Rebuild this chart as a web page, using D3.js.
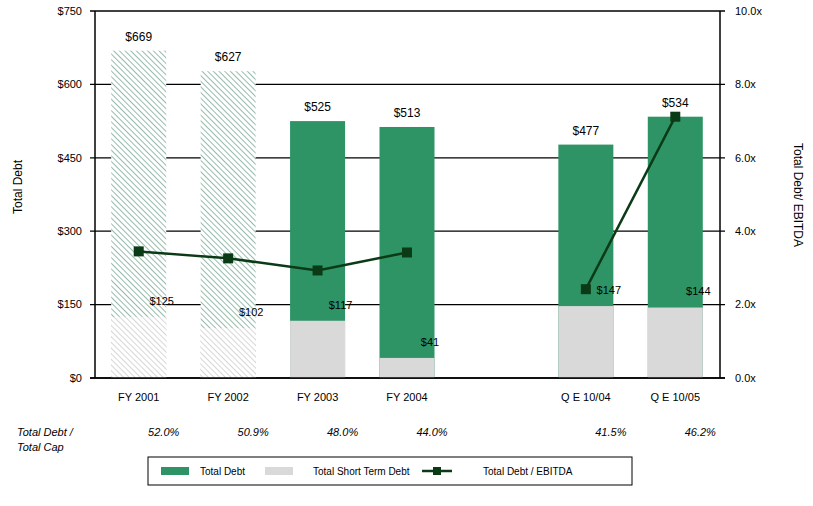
<!DOCTYPE html>
<html><head><meta charset="utf-8">
<script src="https://cdn.jsdelivr.net/npm/d3@7"></script>
<style>
body{margin:0;background:#fff;}
svg{font-family:"Liberation Sans",Arial,sans-serif;}
</style></head>
<body><svg id="c" width="813" height="506"></svg>
<script>
const categories = ["FY 2001","FY 2002","FY 2003","FY 2004","Q E 10/04","Q E 10/05"];
const slots = ["FY 2001","FY 2002","FY 2003","FY 2004","gap","Q E 10/04","Q E 10/05"];
const totalDebt = [669,627,525,513,477,534];
const shortTermDebt = [125,102,117,41,147,144];
const debtToEbitda = [3.45,3.26,2.93,3.42,2.42,7.12];
const lineSegment = [0,0,0,0,1,1];
const hatched = [true,true,false,false,false,false];
const debtToCap = ["52.0%","50.9%","48.0%","44.0%","41.5%","46.2%"];
const leftTicks = [0,150,300,450,600,750];
const rightTicks = [0,2,4,6,8,10];

const GREEN="#2e9466", GRAY="#d9d9d9", LINE="#0b3a16";
const svg=d3.select("#c");
const L=95,R=720,T=11,B=378;
const x=d3.scaleBand().domain(slots).range([94,720]).paddingInner(0.385).paddingOuter(0.1925);
const y=d3.scaleLinear().domain([0,750]).range([B,T]);
const y2=d3.scaleLinear().domain([0,10]).range([B,T]);

const defs=svg.append("defs");
function hatch(id,color){
  const p=defs.append("pattern").attr("id",id).attr("patternUnits","userSpaceOnUse")
    .attr("width",4).attr("height",4).attr("patternTransform","rotate(-45)");
  p.append("rect").attr("width",4).attr("height",4).attr("fill","#fff");
  p.append("line").attr("x1",0).attr("y1",0).attr("x2",0).attr("y2",4)
    .attr("stroke",color).attr("stroke-width",1.2);
}
hatch("hg","#4f8f73");
hatch("hy","#bdbdbd");

// gridlines
svg.append("g").selectAll("line").data(leftTicks).join("line")
  .attr("x1",L-5).attr("x2",R+5).attr("y1",d=>y(d)).attr("y2",d=>y(d))
  .attr("stroke","#000").attr("stroke-width",1.3);

const data=categories.map((c,i)=>({c,t:totalDebt[i],s:shortTermDebt[i],r:debtToEbitda[i],seg:lineSegment[i],h:hatched[i],cap:debtToCap[i]}));

const g=svg.append("g");
g.selectAll(".tot").data(data).join("rect").attr("class","tot")
  .attr("x",d=>x(d.c)).attr("width",x.bandwidth())
  .attr("y",d=>y(d.t)).attr("height",d=>y(0)-y(d.t))
  .attr("fill",d=>d.h?"url(#hg)":GREEN);
g.selectAll(".st").data(data).join("rect").attr("class","st")
  .attr("x",d=>x(d.c)).attr("width",x.bandwidth())
  .attr("y",d=>y(d.s)).attr("height",d=>y(0)-y(d.s))
  .attr("fill",d=>d.h?"url(#hy)":GRAY);

// axes lines
svg.append("line").attr("x1",L).attr("x2",L).attr("y1",T).attr("y2",B).attr("stroke","#000").attr("stroke-width",1.5);
svg.append("line").attr("x1",R).attr("x2",R).attr("y1",T).attr("y2",B).attr("stroke","#000").attr("stroke-width",1.5);
svg.append("line").attr("x1",L-5).attr("x2",R+5).attr("y1",B).attr("y2",B).attr("stroke","#000").attr("stroke-width",1.5);

// left ticks
svg.append("g").selectAll("text").data(leftTicks).join("text")
  .attr("x",82).attr("y",d=>y(d)).attr("dy","0.35em").attr("text-anchor","end")
  .attr("font-size",11).text(d=>"$"+d);
svg.append("g").selectAll("text").data(rightTicks).join("text")
  .attr("x",735).attr("y",d=>y2(d)).attr("dy","0.35em")
  .attr("font-size",11).text(d=>d.toFixed(1)+"x");

// x labels
svg.append("g").selectAll("text").data(data).join("text")
  .attr("x",d=>x(d.c)+x.bandwidth()/2).attr("y",397).attr("dy","0.35em")
  .attr("text-anchor","middle").attr("font-size",11).text(d=>d.c);

// axis titles
svg.append("text").attr("transform","translate(22,187) rotate(-90)").attr("text-anchor","middle")
  .attr("font-size",12).text("Total Debt");
svg.append("text").attr("transform","translate(794,195) rotate(90)").attr("text-anchor","middle")
  .attr("font-size",12).text("Total Debt/ EBITDA");

// value labels
svg.append("g").selectAll("text").data(data).join("text")
  .attr("x",d=>x(d.c)+x.bandwidth()/2).attr("y",d=>y(d.t)-10)
  .attr("text-anchor","middle").attr("font-size",12).text(d=>"$"+d.t);

// ratio line
const line=d3.line().x(d=>x(d.c)+x.bandwidth()/2).y(d=>y2(d.r));
d3.groups(data,d=>d.seg).forEach(([k,arr])=>{
  svg.append("path").attr("d",line(arr)).attr("fill","none").attr("stroke",LINE).attr("stroke-width",2.5);
});
svg.append("g").selectAll("rect").data(data).join("rect")
  .attr("x",d=>x(d.c)+x.bandwidth()/2-5).attr("y",d=>y2(d.r)-5)
  .attr("width",10).attr("height",10).attr("fill",LINE);

// short-term labels
svg.append("g").selectAll("text").data(data).join("text")
  .attr("x",d=>x(d.c)+x.bandwidth()/2+23).attr("y",d=>y(d.s)-16).attr("dy","0.35em")
  .attr("text-anchor","middle").attr("font-size",11).text(d=>"$"+d.s);

// total debt / total cap row
svg.append("text").attr("x",17).attr("y",432).attr("dy","0.35em").attr("font-size",11).attr("font-style","italic").text("Total Debt /");
svg.append("text").attr("x",17).attr("y",447).attr("dy","0.35em").attr("font-size",11).attr("font-style","italic").text("Total Cap");
svg.append("g").selectAll("text").data(data).join("text")
  .attr("x",d=>x(d.c)+x.bandwidth()/2+25).attr("y",432).attr("dy","0.35em")
  .attr("text-anchor","middle").attr("font-size",11).attr("font-style","italic").text(d=>d.cap);

// legend
const lg=svg.append("g");
lg.append("rect").attr("x",148).attr("y",457).attr("width",484).attr("height",28).attr("fill","#fff").attr("stroke","#000").attr("stroke-width",1);
const ly=471;
lg.append("rect").attr("x",161).attr("y",ly-4).attr("width",28).attr("height",8).attr("fill",GREEN);
lg.append("text").attr("x",200).attr("y",ly).attr("dy","0.35em").attr("font-size",10).text("Total Debt");
lg.append("rect").attr("x",265).attr("y",ly-4).attr("width",28).attr("height",8).attr("fill",GRAY);
lg.append("text").attr("x",313).attr("y",ly).attr("dy","0.35em").attr("font-size",10).text("Total Short Term Debt");
lg.append("line").attr("x1",422).attr("x2",452).attr("y1",ly).attr("y2",ly).attr("stroke",LINE).attr("stroke-width",2.5);
lg.append("rect").attr("x",433).attr("y",ly-4).attr("width",8).attr("height",8).attr("fill",LINE);
lg.append("text").attr("x",483).attr("y",ly).attr("dy","0.35em").attr("font-size",10).text("Total Debt / EBITDA");
</script></body></html>
